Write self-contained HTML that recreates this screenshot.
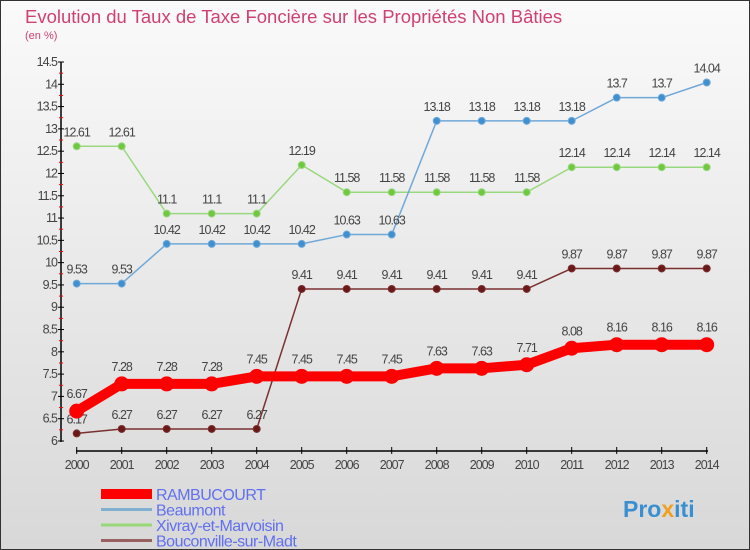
<!DOCTYPE html>
<html><head><meta charset="utf-8">
<style>
body{margin:0;}
#c{width:750px;height:550px;position:relative;background:linear-gradient(#fafafa,#d8d8d8);border:1px solid #333;box-sizing:border-box;overflow:hidden;font-family:"Liberation Sans",sans-serif;}
svg text{font-family:"Liberation Sans",sans-serif;}
</style></head><body>
<div id="c">
<svg id="s" width="750" height="550">
<text x="24" y="22" font-size="18.5" fill="#d04070">Evolution du Taux de Taxe Foncière sur les Propriétés Non Bâties</text>
<text x="24" y="38" font-size="11" fill="#d04070">(en %)</text>
<text x="622" y="516" font-size="23" font-weight="bold" fill="#3a8fd0">Pro<tspan fill="#f0a020">x</tspan>iti</text>
</svg>
</div>
<script>
const years=[2000,2001,2002,2003,2004,2005,2006,2007,2008,2009,2010,2011,2012,2013,2014];
const yTicks=[6,6.5,7,7.5,8,8.5,9,9.5,10,10.5,11,11.5,12,12.5,13,13.5,14,14.5];
const rambucourt=[6.67,7.28,7.28,7.28,7.45,7.45,7.45,7.45,7.63,7.63,7.71,8.08,8.16,8.16,8.16];
const beaumont=[9.53,9.53,10.42,10.42,10.42,10.42,10.63,10.63,13.18,13.18,13.18,13.18,13.7,13.7,14.04];
const xivray=[12.61,12.61,11.1,11.1,11.1,12.19,11.58,11.58,11.58,11.58,11.58,12.14,12.14,12.14,12.14];
const bouconville=[6.17,6.27,6.27,6.27,6.27,9.41,9.41,9.41,9.41,9.41,9.41,9.87,9.87,9.87,9.87];
const seriesNames=["RAMBUCOURT","Beaumont","Xivray-et-Marvoisin","Bouconville-sur-Madt"];
const svg=document.getElementById('s');const NS='http://www.w3.org/2000/svg';
const x=i=>75.7+i*45;const y=v=>440-(v-6)*(379/8.5);
function mk(t,a,p){const e=document.createElementNS(NS,t);for(const k in a)e.setAttribute(k,a[k]);(p||svg).appendChild(e);return e;}
const ax=mk('g',{});


mk('line',{x1:60,y1:61,x2:60,y2:441,stroke:'#000','stroke-width':1.5},ax);
mk('line',{x1:75,y1:450,x2:707,y2:450,stroke:'#000','stroke-width':1.5},ax);
yTicks.forEach((v,k)=>{mk('line',{x1:57,x2:63,y1:y(v),y2:y(v),stroke:'#000'},ax);
if(k<yTicks.length-1)mk('line',{x1:58,x2:62,y1:y(v+0.25),y2:y(v+0.25),stroke:'#f00'},ax);
const t=mk('text',{x:56,y:y(v)+4,'text-anchor':'end','font-size':12.5,fill:'#444','letter-spacing':'-1'},ax);t.textContent=String(v);

});
years.forEach((yr,i)=>{mk('line',{x1:x(i),x2:x(i),y1:446,y2:453,stroke:'#000'},ax);
const t=mk('text',{x:x(i),y:468,'text-anchor':'middle','font-size':12.5,fill:'#444','letter-spacing':'-1'},ax);t.textContent=yr;

});
function series(data,name,lc,pc,lw,r,labelDy){
const g=mk('g',{});


mk('polyline',{points:data.map((v,i)=>x(i)+','+y(v)).join(' '),fill:'none',stroke:lc,'stroke-width':lw,'stroke-linejoin':'round'},g);
data.forEach((v,i)=>{const c=mk('circle',{cx:x(i),cy:y(v),r:r,fill:pc,stroke:lc,'stroke-width':1},g);


const t=mk('text',{x:x(i),y:y(v)-labelDy,'text-anchor':'middle','font-size':12.5,fill:'#444','letter-spacing':'-1'},g);t.textContent=String(v);

});}
series(bouconville,'bouconville','#7a3030','#6a1818',1.5,3.5,10);
series(xivray,'xivray','#9ad880','#70c840',1.5,3.5,10);
series(beaumont,'beaumont','#70a8d8','#4090d0',1.5,3.5,10);
series(rambucourt,'rambucourt','#f00','#f00',10,7,13);
const cols=['#f00','#80b0d0','#98d878','#986060'];const ws=[10,3,3,3];
seriesNames.forEach((n,i)=>{const g=mk('g',{});


const yy=493+i*15.5;
mk('line',{x1:100,x2:151,y1:yy,y2:yy,stroke:cols[i],'stroke-width':ws[i]},g);
const t=mk('text',{x:155,y:yy+6,'font-size':16,fill:'#6070f0','letter-spacing':'-0.5'},g);t.textContent=n;});
</script>
</body></html>
